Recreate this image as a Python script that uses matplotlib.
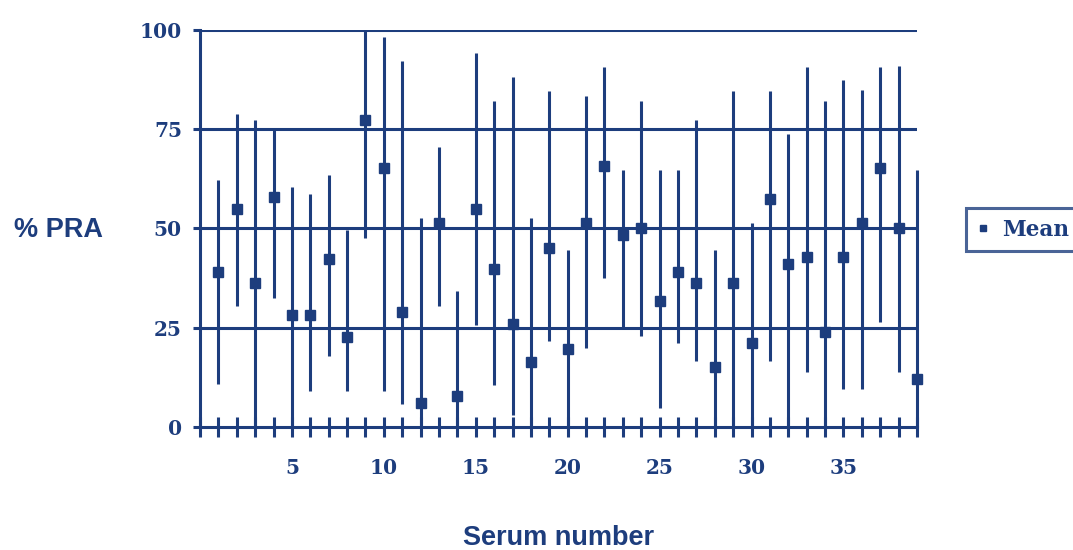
import matplotlib
matplotlib.use("Agg")
import matplotlib.pyplot as plt
import numpy as np

serum = list(range(1, 40))
mean = [39.1, 54.9, 36.1, 58.0, 28.2, 28.2, 42.2, 22.7, 77.3, 65.3,
        28.8, 5.9, 51.4, 7.7, 54.9, 39.7, 25.9, 16.2, 45.1, 19.7,
        51.3, 65.7, 48.3, 50.0, 31.8, 39.1, 36.1, 15.1, 36.1, 21.2,
        57.4, 40.9, 42.7, 23.8, 42.7, 51.3, 65.3, 50.0, 12.0]
low = [10.7, 30.5, 0.0, 32.5, 0.0, 9.1, 17.9, 9.1, 47.5, 9.1,
       5.7, 0.0, 30.5, 0.0, 25.6, 10.5, 2.9, 0.0, 21.6, 0.0,
       19.9, 37.6, 24.8, 22.9, 4.6, 21.2, 16.6, 0.0, 0.0, 0.0,
       16.6, 0.0, 13.9, 0.0, 9.4, 9.4, 26.5, 13.9, 0.0]
high = [62.2, 78.8, 77.3, 74.8, 60.3, 58.7, 63.4, 49.6, 100.0, 98.3,
        92.3, 52.5, 70.4, 34.3, 94.3, 82.2, 88.2, 52.5, 84.6, 44.5,
        83.4, 90.6, 64.7, 82.2, 64.7, 64.7, 77.3, 44.5, 84.6, 51.3,
        84.6, 73.9, 90.6, 82.2, 87.4, 85.0, 90.6, 91.0, 64.7]
y_ticks = [0, 25, 50, 75, 100]
x_ticklabels = {5: "5", 10: "10", 15: "15", 20: "20", 25: "25", 30: "30", 35: "35"}

navy = "#1d3d7d"
W, H = 1073, 550
fig = plt.figure(figsize=(W / 100, H / 100), dpi=100)
ax = fig.add_axes([200 / W, 1 - 426.7 / H, 717 / W, 396.7 / H])

m = np.array(mean)
yerr = [m - np.array(low), np.array(high) - m]
eb = ax.errorbar(serum, mean, yerr=yerr, fmt="none", ecolor=navy, elinewidth=2.2,
                 capsize=0, zorder=3)
for coll in eb.lines[2]:
    coll.set_clip_on(False)
ax.plot(serum, mean, linestyle="none", marker="s", markersize=6.5, color=navy,
        label="Mean", zorder=4, clip_on=False)

ax.set_xlim(0, 39)
ax.set_ylim(0, 100)

for yv in y_ticks[1:]:
    ax.axhline(yv, color=navy, linewidth=2.2, zorder=2)

for s in ["top", "right"]:
    ax.spines[s].set_visible(False)
for s in ["left", "bottom"]:
    ax.spines[s].set_color(navy)
    ax.spines[s].set_linewidth(2.2)

serif = {"family": "DejaVu Serif", "weight": "bold", "size": 14.5}
ax.set_yticks(y_ticks)
ax.set_yticklabels([str(v) for v in y_ticks], fontdict=serif, color=navy)
ax.tick_params(axis="y", direction="out", length=5, width=2.2, color=navy, pad=8)

xt = list(range(0, 40))
ax.set_xticks(xt)
ax.set_xticklabels([x_ticklabels.get(v, "") for v in xt], fontdict=serif, color=navy)
ax.tick_params(axis="x", direction="inout", length=15, width=2.2, color=navy, pad=15)

sans = {"family": "Liberation Sans", "weight": "bold", "size": 19.5}
ax.set_xlabel("Serum number", fontdict=sans, color=navy)
ax.xaxis.set_label_coords(0.5, -0.249)
ax.set_ylabel("% PRA", fontdict=sans, color=navy, rotation=0, va="center", ha="center")
ax.yaxis.set_label_coords((58 - 200) / 717, 0.496)

leg = fig.legend(loc="center left", bbox_to_anchor=(966 / W, 1 - 229.5 / H),
                 frameon=True, fancybox=False, borderpad=0.5, handlelength=0.6,
                 handletextpad=0.6, borderaxespad=0, markerscale=0.7,
                 prop={"family": "DejaVu Serif", "weight": "bold", "size": 15.5})
leg.get_frame().set_edgecolor(navy)
leg.get_frame().set_linewidth(2.2)
for t in leg.get_texts():
    t.set_color(navy)

fig.savefig("out.png", dpi=100)
